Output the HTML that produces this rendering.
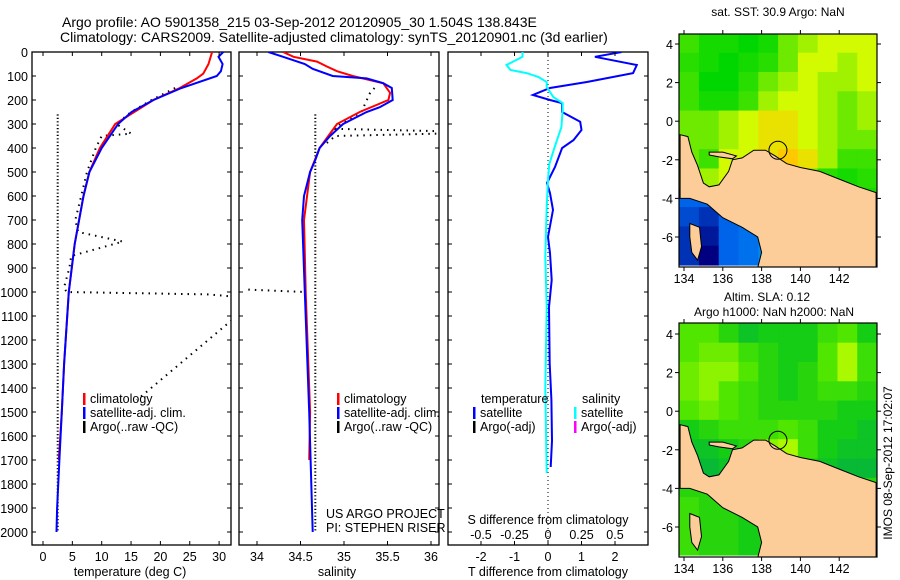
<!DOCTYPE html>
<html><head><meta charset="utf-8">
<style>
html,body{margin:0;padding:0;background:#fff;}
svg{display:block;font-family:"Liberation Sans",sans-serif;}
text{fill:#000;}
</style></head>
<body>
<svg id="c" width="900" height="580" viewBox="0 0 900 580" xmlns="http://www.w3.org/2000/svg">
<text x="62" y="27" font-size="14">Argo profile: AO 5901358_215 03-Sep-2012 20120905_30 1.504S 138.843E</text>
<text x="60" y="42" font-size="14">Climatology: CARS2009. Satellite-adjusted climatology: synTS_20120901.nc (3d earlier)</text>
<text x="778" y="16" font-size="12" text-anchor="middle">sat. SST: 30.9 Argo: NaN</text>
<text x="767" y="301" font-size="12" text-anchor="middle">Altim. SLA: 0.12</text>
<text x="774" y="316" font-size="12" text-anchor="middle">Argo h1000: NaN h2000: NaN</text>
<text x="0" y="0" font-size="12" text-anchor="middle" transform="translate(892,463) rotate(-90)">IMOS 08-Sep-2012 17:02:07</text>
</svg>
<script>
// ---------- profile data ----------
const tempDepthBlue=[0,20,50,80,100,150,200,250,300,400,500,600,800,1000,1300,1500,1700,1900,2000];
const tempBlue=[30.7,29.9,30.6,30.3,29.6,23.6,18.8,15.1,12.8,10.0,7.9,6.9,5.4,4.4,3.6,3.2,2.8,2.4,2.3];
const tempDepthRed=[0,50,90,110,150,200,300,400,500,600,800,1000,1300,1500,1700];
const tempRed=[28.8,28.2,27.3,26.2,23.3,18.8,12.3,9.7,7.9,6.9,5.4,4.4,3.6,3.2,2.7];
const argoTDepthA=[150,200,250,300,340,350,400,500,600,700,750,790,850,900,980,1000,1010,1020];
const argoTA=[22.5,18.5,15,12.5,15,10,9,7.5,6.5,5.5,6,13.6,4.8,4.5,3.6,4,28,33];
const argoTDepthB=[1100,1450];
const argoTB=[33,16];
const argoTDepthC=[260,2000];
const argoTC=[2.5,2.5];

const salDepthBlue=[0,20,50,70,100,110,130,150,200,230,250,300,350,400,450,500,600,700,1000,1500,2000];
const salBlue=[34.13,34.30,34.55,34.64,34.87,35.26,35.45,35.55,35.56,35.41,35.26,34.99,34.84,34.72,34.67,34.61,34.54,34.52,34.55,34.60,34.64];
const salDepthRed=[0,20,40,60,80,100,130,170,200,250,300,400,500,700,1000,1500,1700];
const salRed=[34.30,34.42,34.69,34.80,34.92,35.10,35.45,35.53,35.51,35.18,34.92,34.72,34.61,34.54,34.56,34.61,34.60];
const argoSDepthA=[150,170,250,300,320,330,340,350,380];
const argoSA=[35.35,35.3,35.2,34.96,34.9,36.1,36.1,34.9,34.8];
const argoSDepthB=[260,2000];
const argoSB=[34.67,34.67];
const argoSDepthC=[990,1000];
const argoSC=[33.9,34.55];

const dTDepth=[0,20,54,88,125,150,179,200,213,250,291,325,367,400,479,546,588,658,771,838,950,1063,1300,1450,1620,1729];
const dT=[2.2,1.4,2.65,2.54,1.16,0.06,-0.45,0.06,0.42,0.42,0.96,1.0,0.76,0.42,0.21,-0.03,0.06,0.15,0,0.06,0.11,0.03,0.05,0.1,0.12,0.08];
const dSDepth=[0,20,54,75,88,104,125,146,188,213,242,313,396,467,533,646,854,1063,1400,1754];
const dS=[-0.19,-0.19,-0.31,-0.28,-0.16,-0.07,-0.01,-0.01,0.04,0.11,0.11,0.10,0.05,0.01,0,-0.01,-0.02,-0.01,-0.02,-0.01];

const depthTicks=[0,100,200,300,400,500,600,700,800,900,1000,1100,1200,1300,1400,1500,1600,1700,1800,1900,2000];
const tempTicks=[0,5,10,15,20,25,30];
const salTicks=[34,34.5,35,35.5,36];
const salTickLabels=["34","34.5","35","35.5","36"];
const dTTicks=[-2,-1,0,1,2];
const dSTicks=[-0.5,-0.25,0,0.25,0.5];
const dSTickLabels=["-0.5","-0.25","0","0.25","0.5"];

// ---------- map data ----------
const mapLonTicks=[134,136,138,140,142];
const mapLatTicks=[-6,-4,-2,0,2,4];
const sstGrid=[
[0.5,0.3,0.3,0.2,0.3,0.6,0.7,0.8,0.8,0.8],
[0.4,0.3,0.2,0.3,0.4,0.6,0.8,0.8,0.7,0.8],
[0.5,0.2,0.2,0.4,0.6,0.7,0.8,0.7,0.7,0.8],
[0.5,0.3,0.3,0.5,0.7,0.8,0.8,0.7,0.6,0.7],
[0.6,0.6,0.7,0.8,0.9,0.9,0.8,0.7,0.6,0.7],
[0.6,0.6,0.7,0.8,0.9,0.9,0.8,0.7,0.6,0.6],
[0.6,0.5,0.8,0.8,0.9,1.0,0.9,0.7,0.5,0.5],
[0.7,0.7,0.8,0.8,0.9,0.9,0.6,0.4,0.3,0.4],
[-0.6,-0.6,-0.6,-0.5,-0.4,-0.3,0.3,0.3,0.3,0.3],
[-0.7,-0.8,-0.6,-0.5,-0.4,-0.3,0.3,0.3,0.3,0.3],
[-0.8,-0.9,-0.6,-0.5,-0.4,-0.2,0.3,0.3,0.3,0.3],
[-0.8,-1.0,-0.6,-0.5,-0.3,-0.1,0.3,0.3,0.3,0.3]];
const slaGrid=[
[0.6,0.6,0.4,0.2,0.3,0.3,0.3,0.5,0.6,0.3],
[0.6,0.7,0.7,0.5,0.4,0.3,0.3,0.6,0.9,0.5],
[0.7,0.8,0.8,0.6,0.4,0.3,0.4,0.6,0.9,0.5],
[0.7,0.8,0.6,0.5,0.4,0.3,0.4,0.5,0.5,0.4],
[0.6,0.7,0.6,0.5,0.4,0.4,0.4,0.4,0.3,0.3],
[0.3,0.4,0.5,0.5,0.5,0.6,0.5,0.3,0.3,0.2],
[0.2,0.2,0.3,0.4,0.8,0.9,0.5,0.3,0.2,0.2],
[0.1,0.1,0.2,0.4,0.5,0.4,0.3,0.2,0.1,0.1],
[0.4,0.4,0.4,0.4,0.4,0.4,0.4,0.4,0.4,0.4],
[0.5,0.4,0.4,0.3,0.3,0.3,0.3,0.3,0.3,0.3],
[0.5,0.4,0.4,0.3,0.3,0.3,0.3,0.3,0.3,0.3],
[0.5,0.4,0.4,0.3,0.3,0.3,0.3,0.3,0.3,0.3]];
const landLon=[133.8,134.2,134.4,134.7,135.0,135.3,135.8,136.3,136.5,137,137.6,138.2,138.7,139.3,140,141,142,143,143.9,143.9,137.8,138.0,137.8,137.0,136,135.2,134.3,133.8];
const landLat=[-0.7,-0.8,-1.6,-2.3,-3.2,-3.4,-3.3,-2.6,-2.0,-1.9,-1.5,-1.5,-1.8,-2.2,-2.4,-2.6,-3.0,-3.4,-3.7,-7.6,-7.6,-6.8,-6.0,-5.5,-5.0,-4.3,-4.0,-4.0];
const islandLon=[134.3,134.8,134.9,134.7,134.4,134.3];
const islandLat=[-5.3,-5.5,-6.5,-7.2,-6.8,-6.0];
const yapenLon=[135.3,136.0,136.7,136.5,135.8,135.3];
const yapenLat=[-1.6,-1.6,-1.8,-1.95,-1.85,-1.75];
const argoLon=[138.843];
const argoLat=[-1.504];

const svg=document.getElementById('c');
const NS='http://www.w3.org/2000/svg';
function mk(tag,attrs,parent){const e=document.createElementNS(NS,tag);for(const k in attrs)e.setAttribute(k,attrs[k]);(parent||svg).appendChild(e);return e;}
function txt(x,y,s,size,anchor,parent){const t=mk('text',{x:x,y:y,'font-size':size,'text-anchor':anchor||'start'},parent);t.textContent=s;return t;}

const PT=52,PB=545;
const yD=d=>PT+d*0.24;

function drawLine(xs,ds,xf,color,w,dash,name,g){
  const pts=xs.map((v,i)=>xf(v).toFixed(1)+','+yD(ds[i]).toFixed(1)).join(' ');
  const p=mk('polyline',{points:pts,fill:'none',stroke:color,'stroke-width':w},g);
  if(dash)p.setAttribute('stroke-dasharray',dash);
  
  
}

function panel(name,x0,x1,yLabels){
  const g=mk('g',{});
  
  
  const cp=mk('clipPath',{id:'cp-'+name},g);
  mk('rect',{x:x0,y:PT,width:x1-x0,height:PB-PT},cp);
  const box=mk('rect',{x:x0,y:PT,width:x1-x0,height:PB-PT,fill:'none',stroke:'#000','stroke-width':1.3},g);
  
  
  depthTicks.forEach(d=>{
    mk('line',{x1:x0,x2:x0+4,y1:yD(d),y2:yD(d),stroke:'#000'},g);
    mk('line',{x1:x1,x2:x1-4,y1:yD(d),y2:yD(d),stroke:'#000'},g);
    if(yLabels){const t=txt(28,yD(d)+5,String(d),12.5,'end',g);
      
      }
  });
  const inner=mk('g',{'clip-path':'url(#cp-'+name+')'},g);
  return {g,inner};
}

// Panel 1: temperature
const xT=t=>43+t*5.87;
let P=panel('temperature-panel',32,231,true);
tempTicks.forEach(t=>{
  mk('line',{x1:xT(t),x2:xT(t),y1:PB,y2:PB-4,stroke:'#000'},P.g);
  mk('line',{x1:xT(t),x2:xT(t),y1:PT,y2:PT+4,stroke:'#000'},P.g);
  const l=txt(xT(t),561,String(t),12.5,'middle',P.g);
  
  
});
drawLine(argoTC,argoTDepthC,xT,'#000',2,'1.2 2.2','argo-temp-dots-vertical',P.inner);
drawLine(argoTA,argoTDepthA,xT,'#000',2,'1.5 5','argo-temp-dots',P.inner);
drawLine(argoTB,argoTDepthB,xT,'#000',2,'1.5 5','argo-temp-dots-diagonal',P.inner);
drawLine(tempRed,tempDepthRed,xT,'#f00',2,null,'temp-climatology-line',P.inner);
drawLine(tempBlue,tempDepthBlue,xT,'#00f',2,null,'temp-satellite-line',P.inner);
let t1=txt(130,576,'temperature (deg C)',12.5,'middle');


// Panel 2: salinity
const xS=s=>257+(s-34)*87;
P=panel('salinity-panel',239,439,false);
salTicks.forEach((s,i)=>{
  mk('line',{x1:xS(s),x2:xS(s),y1:PB,y2:PB-4,stroke:'#000'},P.g);
  mk('line',{x1:xS(s),x2:xS(s),y1:PT,y2:PT+4,stroke:'#000'},P.g);
  const l=txt(xS(s),561,salTickLabels[i],12.5,'middle',P.g);
  
  
});
drawLine(argoSB,argoSDepthB,xS,'#000',2,'1.2 2.2','argo-sal-dots-vertical',P.inner);
drawLine(argoSA,argoSDepthA,xS,'#000',2,'1.5 5','argo-sal-dots',P.inner);
drawLine(argoSC,argoSDepthC,xS,'#000',2,'1.5 5','argo-sal-dots-horizontal',P.inner);
drawLine(salRed,salDepthRed,xS,'#f00',2,null,'sal-climatology-line',P.inner);
drawLine(salBlue,salDepthBlue,xS,'#00f',2,null,'sal-satellite-line',P.inner);
t1=txt(337,576,'salinity',12.5,'middle');

t1=txt(326,518,'US ARGO PROJECT',12.5);
t1=txt(326,532,'PI: STEPHEN RISER',12.5);

// Panel 3: differences
const xdT=t=>548+t*33.5;
const xdS=s=>548+s*134;
P=panel('difference-panel',448,648,false);
dTTicks.forEach(t=>{
  mk('line',{x1:xdT(t),x2:xdT(t),y1:PB,y2:PB-4,stroke:'#000'},P.g);
  mk('line',{x1:xdT(t),x2:xdT(t),y1:PT,y2:PT+4,stroke:'#000'},P.g);
  const l=txt(xdT(t),561,String(t),12.5,'middle',P.g);
  
  
});
dSTicks.forEach((s,i)=>{
  const l=txt(xdS(s),539,dSTickLabels[i],12.5,'middle',P.g);
  
  
});
const zl=mk('line',{x1:548,x2:548,y1:PT,y2:PB,stroke:'#000','stroke-dasharray':'1 3'},P.inner);

drawLine(dT,dTDepth,xdT,'#00f',2,null,'t-diff-satellite-line',P.inner);
drawLine(dS,dSDepth,xdS,'#0ff',2,null,'s-diff-satellite-line',P.inner);
t1=txt(548,524,'S difference from climatology',12.5,'middle');

t1=txt(548,576,'T difference from climatology',12.5,'middle');


// Legends
function legItem(x,y,color,label,name){
  const g=mk('g',{});
  
  
  mk('rect',{x:x,y:y-10,width:2.5,height:12,fill:color},g);
  txt(x+7,y,label,12.5,'start',g);
}
legItem(83,403,'#f00','climatology','legend-temp-climatology');
legItem(83,417,'#00f','satellite-adj. clim.','legend-temp-satellite');
legItem(83,431,'#000','Argo(..raw -QC)','legend-temp-argo');
legItem(337,403,'#f00','climatology','legend-sal-climatology');
legItem(337,417,'#00f','satellite-adj. clim.','legend-sal-satellite');
legItem(337,431,'#000','Argo(..raw -QC)','legend-sal-argo');
t1=txt(481,403,'temperature',12.5);
t1=txt(582,403,'salinity',12.5);
legItem(473,417,'#00f','satellite','legend-tdiff-satellite');
legItem(473,431,'#000','Argo(-adj)','legend-tdiff-argo');
legItem(574,417,'#0ff','satellite','legend-sdiff-satellite');
legItem(574,431,'#f0f','Argo(-adj)','legend-sdiff-argo');

// ---------- maps ----------
function lerp(a,b,t){return a.map((v,i)=>Math.round(v+(b[i]-v)*t));}
function rampColor(stops,v){
  for(let i=0;i<stops.length-1;i++){
    if(v<=stops[i+1][0]){const t=(v-stops[i][0])/(stops[i+1][0]-stops[i][0]);const c=lerp(stops[i][1],stops[i+1][1],Math.max(0,Math.min(1,t)));return 'rgb('+c.join(',')+')';}
  }
  return 'rgb('+stops[stops.length-1][1].join(',')+')';
}
const sstStops=[[-1,[0,0,128]],[-0.6,[0,100,235]],[-0.2,[0,150,240]],[0,[0,200,160]],[0.2,[0,215,0]],[0.5,[60,225,0]],[0.8,[210,250,0]],[1,[255,200,0]]];
const slaStops=[[0,[0,175,70]],[0.3,[20,205,20]],[0.6,[80,230,0]],[1,[200,255,0]]];

function drawMap(name,y0,y1,lat4y,latm6y,grid,stops){
  const X0=679,X1=877;
  const lonX=lo=>684+(lo-134)*19.4;
  const pxPerLat=(latm6y-lat4y)/10;
  const latY=la=>lat4y+(4-la)*pxPerLat;
  const g=mk('g',{});
  
  
  const cid='mc-'+name;
  const cp=mk('clipPath',{id:cid},g);
  mk('rect',{x:X0,y:y0,width:X1-X0,height:y1-y0},cp);
  const inner=mk('g',{'clip-path':'url(#'+cid+')'},g);
  const lonStart=133.75,latStart=4.55;
  const cw=(143.95-lonStart)/grid[0].length;
  grid.forEach((row,r)=>row.forEach((v,c)=>{
    const la0=latStart-r*1.0,la1=la0-1.0;
    const lo0=lonStart+c*cw;
    const cell=mk('rect',{x:lonX(lo0),y:latY(la0),width:cw*19.4+0.6,height:pxPerLat+0.6,fill:rampColor(stops,v)},inner);
    
    
  }));
  function poly(lons,lats,fill,nm){
    const p=mk('polygon',{points:lons.map((lo,i)=>lonX(lo).toFixed(1)+','+latY(lats[i]).toFixed(1)).join(' '),fill:fill,stroke:'#000','stroke-width':1},inner);
    
    
  }
  poly(landLon,landLat,'#fccc99','land');
  poly(islandLon,islandLat,'#fccc99','island');
  poly(yapenLon,yapenLat,'#fccc99','island-yapen');
  argoLon.forEach((lo,i)=>{
    const c=mk('circle',{cx:lonX(lo),cy:latY(argoLat[i]),r:9,fill:'none',stroke:'#000','stroke-width':1},inner);
    
    
  });
  const fr=mk('rect',{x:X0,y:y0,width:X1-X0,height:y1-y0,fill:'none',stroke:'#000','stroke-width':1.2},g);
  
  mapLonTicks.forEach(lo=>{
    mk('line',{x1:lonX(lo),x2:lonX(lo),y1:y1,y2:y1+4,stroke:'#000'},g);
    mk('line',{x1:lonX(lo),x2:lonX(lo),y1:y0,y2:y0-4,stroke:'#000'},g);
    const l=txt(lonX(lo),y1+16,String(lo),12.5,'middle',g);
    
  });
  mapLatTicks.forEach(la=>{
    mk('line',{x1:X0,x2:X0-4,y1:latY(la),y2:latY(la),stroke:'#000'},g);
    mk('line',{x1:X1,x2:X1+4,y1:latY(la),y2:latY(la),stroke:'#000'},g);
    const l=txt(673,latY(la)+5,String(la),12.5,'end',g);
    
  });
}
drawMap('sst-map',34,267,44,237,sstGrid,sstStops);
drawMap('sla-map',323,557,334,527,slaGrid,slaStops);
</script>
</body></html>
